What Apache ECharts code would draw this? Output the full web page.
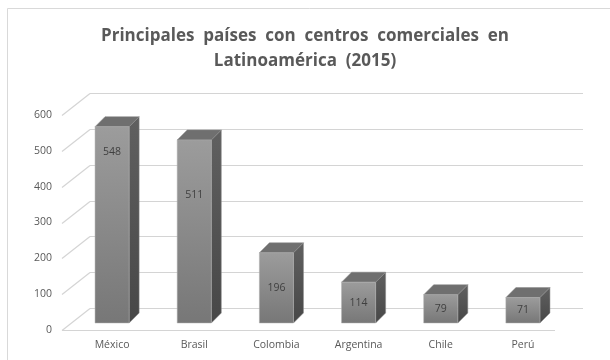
<!DOCTYPE html>
<html>
<head>
<meta charset="utf-8">
<script src="https://cdn.jsdelivr.net/npm/echarts@6/dist/echarts.min.js"></script>
<style>html,body{margin:0;padding:0;background:#fff}#c{width:610px;height:360px}</style>
</head>
<body>
<div id="c"></div>
<script>
const categories = ['México', 'Brasil', 'Colombia', 'Argentina', 'Chile', 'Perú'];
const values = [548, 511, 196, 114, 79, 71];
const yTicks = [0, 100, 200, 300, 400, 500, 600];
const titleText = 'Principales  países  con  centros  comerciales  en\nLatinoamérica  (2015)';

// label placement inside the front face (fraction of height from bottom) – style only
const labelFrac = [0.87, 0.70, 0.5, 0.5, 0.5, 0.5];

const FONT = '"Open Sans", sans-serif';
const WALL_DX = 28, WALL_DY = -22;   // floor depth
const FACE_DX = 9, FACE_DY = -7;     // bar front plane offset
const BAR_DX = 10, BAR_DY = -10;     // bar depth

const chart = echarts.init(document.getElementById('c'), null, {renderer: 'canvas'});

chart.setOption({
  animation: false,
  backgroundColor: '#fff',
  graphic: [{
    type: 'rect', z: -10,
    shape: {x: 7.5, y: 8.5, width: 640, height: 400},
    style: {fill: 'none', stroke: '#d9d9d9', lineWidth: 1}
  }],
  title: {
    text: titleText,
    left: 'center',
    top: 19,
    textStyle: {fontFamily: FONT, fontSize: 17, fontWeight: 'bold', color: '#595959', lineHeight: 25}
  },
  grid: {left: 62, width: 493, top: 115, height: 215, containLabel: false},
  xAxis: {
    type: 'category',
    data: categories,
    axisLine: {show: false},
    axisTick: {show: false},
    axisLabel: {fontFamily: FONT, fontSize: 10.5, color: '#595959', margin: 10, padding: [0, 0, 0, 18]},
    splitLine: {show: false}
  },
  yAxis: {
    type: 'value',
    min: 0, max: 600, interval: 100,
    axisLine: {show: false},
    axisTick: {show: false},
    splitLine: {show: false},
    axisLabel: {fontFamily: FONT, fontSize: 10.5, color: '#595959', margin: 10}
  },
  series: [
    {
      type: 'custom',
      z: 1,
      silent: true,
      clip: false,
      data: yTicks.map(v => [0, v]),
      renderItem: function (params, api) {
        const cs = params.coordSys;
        const v = api.value(1);
        const y = Math.round(api.coord([0, v])[1]) + 0.5;
        const left = cs.x, right = cs.x + cs.width;
        const st = {stroke: '#d4d4d4', lineWidth: 1.2, fill: 'none'};
        const children = [
          {type: 'line', shape: {x1: left, y1: y, x2: left + WALL_DX, y2: y + WALL_DY}, style: st},
          {type: 'line', shape: {x1: left + WALL_DX, y1: y + WALL_DY, x2: right + WALL_DX, y2: y + WALL_DY}, style: st}
        ];
        if (v === 0) {
          children.push({type: 'line', shape: {x1: left, y1: y, x2: right, y2: y}, style: st});
        }
        return {type: 'group', children: children};
      }
    },
    {
      type: 'custom',
      z: 2,
      clip: false,
      data: values.map((v, i) => [i, v]),
      renderItem: function (params, api) {
        const i = api.value(0), v = api.value(1);
        const base = api.coord([i, 0]);
        const top = api.coord([i, v]);
        const bw = api.size([1, 0])[0] * 0.415;
        const x0 = base[0] - bw / 2 + FACE_DX;
        const x1 = x0 + bw;
        const yb = base[1] + FACE_DY;
        const yt = top[1] + FACE_DY;
        const frac = labelFrac[params.dataIndex];
        return {
          type: 'group',
          children: [
            {
              type: 'polygon',
              shape: {points: [[x1, yt], [x1 + BAR_DX, yt + BAR_DY], [x1 + BAR_DX, yb + BAR_DY], [x1, yb]]},
              style: {
                fill: new echarts.graphic.LinearGradient(0, 0, 0, 1, [{offset: 0, color: '#606060'}, {offset: 1, color: '#474747'}]),
                stroke: '#8a8a8a', lineWidth: 0.5
              }
            },
            {
              type: 'polygon',
              shape: {points: [[x0, yt], [x0 + BAR_DX, yt + BAR_DY], [x1 + BAR_DX, yt + BAR_DY], [x1, yt]]},
              style: {fill: '#6f6f6f', stroke: '#8a8a8a', lineWidth: 0.5}
            },
            {
              type: 'rect',
              shape: {x: x0, y: yt, width: bw, height: yb - yt},
              style: {
                fill: new echarts.graphic.LinearGradient(0, 0, 0, 1, [{offset: 0, color: '#9c9c9c'}, {offset: 1, color: '#777777'}]),
                stroke: '#b0b0b0', lineWidth: 0.5
              }
            },
            {
              type: 'text',
              style: {
                text: String(v),
                x: (x0 + x1) / 2,
                y: yb - (yb - yt) * frac,
                align: 'center',
                verticalAlign: 'middle',
                fontFamily: FONT,
                fontSize: 10.5,
                fill: '#404040'
              }
            }
          ]
        };
      }
    }
  ]
});
</script>
</body>
</html>
